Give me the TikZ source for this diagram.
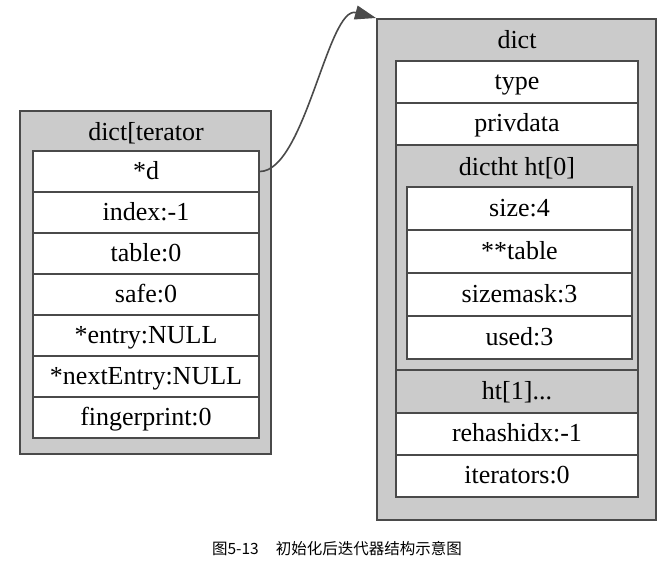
\documentclass[tikz,border=0pt]{standalone}
\usepackage{fontspec}
\setmainfont{Liberation Serif}
\newfontfamily\cjk{Noto Sans CJK SC}
\usetikzlibrary{arrows.meta}
\definecolor{edge}{HTML}{4A4A4A}
\definecolor{panel}{HTML}{CBCBCB}
\tikzset{
  panelbox/.style={draw=edge, line width=2pt, fill=panel, inner sep=0pt},
  field/.style={draw=edge, line width=1.8pt, fill=white, inner sep=0pt,
    font=\fontsize{26}{29}\selectfont, text height=18pt, text depth=3pt},
  ttl/.style={inner sep=0pt, font=\fontsize{26}{29}\selectfont, text height=18pt, text depth=3pt},
  link/.style={draw=edge, line width=1.6pt, -{Triangle[length=21pt,width=14pt]}}
}
\begin{document}
\begin{tikzpicture}[x=1pt,y=-1pt]
\useasboundingbox (0,0) rectangle (669,565);
% left structure
\node[panelbox, minimum width=251pt, minimum height=343pt] (iter) at (145.5,282.5) {};
\node[ttl] (itert) at (146,133) {dict[terator};
\node[field, minimum width=226pt, minimum height=41pt] (d) at (146,171.5) {*d};
\node[field, minimum width=226pt, minimum height=41pt] (idx) at (146,212.5) {index:-1};
\node[field, minimum width=226pt, minimum height=41pt] (tbl) at (146,253.5) {table:0};
\node[field, minimum width=226pt, minimum height=41pt] (safe) at (146,294.5) {safe:0};
\node[field, minimum width=226pt, minimum height=41pt] (entry) at (146,335.5) {*entry:NULL};
\node[field, minimum width=226pt, minimum height=41pt] (next) at (146,376.5) {*nextEntry:NULL};
\node[field, minimum width=226pt, minimum height=41pt] (fp) at (146,417.5) {fingerprint:0};
% right structure
\node[panelbox, minimum width=279pt, minimum height=501pt] (dict) at (516.5,269.5) {};
\node[ttl] (dictt) at (517,41) {dict};
\node[field, minimum width=242pt, minimum height=42pt] (type) at (517,82) {type};
\node[field, minimum width=242pt, minimum height=42pt] (priv) at (517,124) {privdata};
\node[panelbox, line width=1.8pt, minimum width=242pt, minimum height=225pt] (ht0) at (517,257.5) {};
\node[ttl] (ht0t) at (517,168) {dictht ht[0]};
\node[field, minimum width=225pt, minimum height=43pt] (size) at (519.5,208.5) {size:4};
\node[field, minimum width=225pt, minimum height=43pt] (table) at (519.5,251.5) {**table};
\node[field, minimum width=225pt, minimum height=43pt] (mask) at (519.5,294.5) {sizemask:3};
\node[field, minimum width=225pt, minimum height=43pt] (used) at (519.5,337.5) {used:3};
\node[field, fill=panel, minimum width=242pt, minimum height=43pt] (ht1) at (517,391.5) {ht[1]...};
\node[field, minimum width=242pt, minimum height=42pt] (rehash) at (517,434) {rehashidx:-1};
\node[field, minimum width=242pt, minimum height=42pt] (its) at (517,476) {iterators:0};
% pointer
\draw[link] (d.east) .. controls (305,171) and (328,5) .. (dict.north west);
% caption
\node[inner sep=0pt, font=\cjk\fontsize{15.5}{18}\selectfont] (cap) at (337,549) {图5-13\hspace{1.1em}初始化后迭代器结构示意图};
\end{tikzpicture}
\end{document}
